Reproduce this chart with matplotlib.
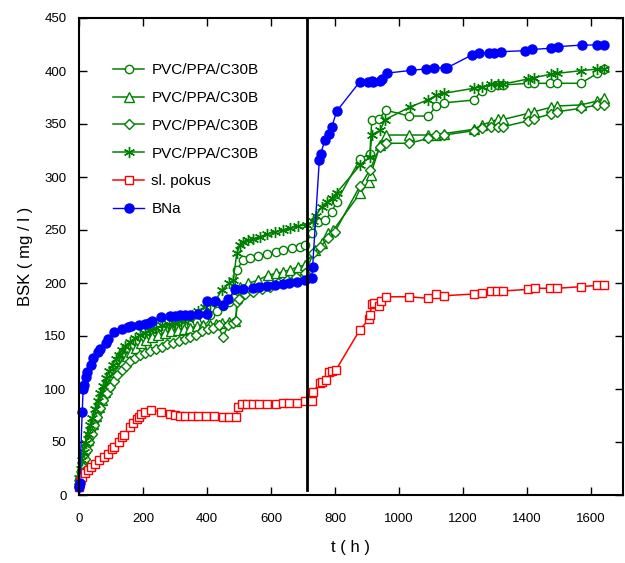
import matplotlib
matplotlib.use("Agg")
import matplotlib.pyplot as plt

plt.rcParams['font.family'] = ['Liberation Sans', 'DejaVu Sans']

# ---------------- data ----------------
labels = ["PVC/PPA/C30B", "PVC/PPA/C30B", "PVC/PPA/C30B", "PVC/PPA/C30B", "sl. pokus", "BNa"]

t_circ = [0, 5, 10, 16, 22, 30, 38, 46, 55, 64, 74, 84, 95, 106, 117, 128, 140, 152, 165, 180, 196, 212, 230, 250, 270, 290, 310, 330, 350, 370, 390, 410, 430, 450, 470, 483, 493, 513, 534, 560, 586, 616, 638, 665, 691, 706, 727, 748, 769, 790, 805, 878, 909, 915, 938, 959, 1032, 1092, 1116, 1141, 1234, 1258, 1287, 1308, 1326, 1404, 1422, 1472, 1495, 1568, 1620, 1640]
v_circ = [14, 22, 30, 38, 46, 55, 62, 70, 78, 86, 94, 101, 108, 115, 120, 126, 131, 136, 140, 144, 148, 151, 153, 155, 156, 157, 158, 159, 161, 163, 166, 170, 174, 178, 182, 186, 212, 222, 224, 225.4, 227, 229.5, 231, 232.7, 234, 235.8, 247, 258, 259.4, 267, 276.7, 316.7, 322, 354, 355, 363, 357.5, 357.5, 367, 370, 372.6, 381.4, 384.6, 386.8, 386.8, 388.4, 388.4, 388.4, 388.4, 388.4, 397.8, 402]

t_tri = [0, 4, 9, 14, 20, 27, 35, 43, 52, 61, 71, 81, 92, 103, 114, 125, 137, 150, 163, 178, 194, 210, 228, 248, 268, 288, 308, 328, 348, 368, 388, 408, 428, 448, 468, 488, 503, 529, 560, 592, 616, 638, 659, 685, 706, 737, 758, 779, 795, 878, 907, 911, 941, 959, 1032, 1092, 1116, 1141, 1234, 1258, 1287, 1308, 1326, 1404, 1422, 1474, 1495, 1568, 1620, 1640]
v_tri = [12, 20, 28, 36, 44, 52, 60, 67, 75, 83, 90, 97, 104, 110, 116, 121, 126, 131, 135, 139, 143, 146, 149, 151, 153, 155, 156, 157, 158, 159, 160, 160, 161, 162, 163, 164, 196.5, 199.7, 202.8, 207.5, 209, 210.7, 212.3, 215.4, 217, 231, 237.4, 247, 250, 284.6, 295.6, 302, 330, 339.6, 339.6, 339.6, 340, 341, 345, 349, 352, 354.4, 354.4, 360, 361.6, 365.7, 367, 368, 371.7, 375]

t_dia = [0, 6, 12, 18, 25, 32, 40, 48, 57, 66, 76, 86, 97, 108, 120, 133, 146, 160, 175, 190, 206, 222, 240, 258, 276, 294, 312, 330, 348, 366, 384, 402, 420, 436, 449, 467, 480, 490, 493, 501, 519, 545, 571, 597, 623, 649, 678, 706, 732, 753, 779, 800, 878, 909, 941, 959, 1032, 1092, 1116, 1141, 1234, 1258, 1287, 1308, 1326, 1404, 1422, 1474, 1495, 1568, 1620, 1640]
v_dia = [10, 18, 26, 34, 42, 50, 58, 66, 74, 82, 90, 96, 102, 108, 113, 118, 122, 126, 129, 132, 134, 136, 138, 140, 142, 143, 145, 147, 149, 151, 155, 157, 158, 160, 149, 160, 162, 164, 182, 184.6, 190, 191.8, 194, 196.5, 199.7, 202.8, 206, 209, 228, 234, 242, 248.4, 291.5, 306.6, 328.6, 331.8, 331.8, 336.5, 339.6, 339.6, 343.7, 346, 347.5, 347.5, 347.5, 353, 355, 359.4, 361.6, 364.8, 368, 368]

t_ast = [0, 5, 10, 15, 21, 28, 35, 42, 50, 58, 66, 75, 85, 95, 105, 115, 125, 135, 145, 158, 175, 190, 205, 222, 240, 260, 280, 300, 320, 340, 352, 373, 394, 410, 425, 446, 470, 482, 493, 503, 513, 529, 545, 565, 588, 612, 638, 659, 685, 711, 730, 740, 758, 775, 790, 805, 878, 909, 915, 941, 956, 1034, 1092, 1116, 1141, 1234, 1258, 1287, 1308, 1326, 1404, 1422, 1474, 1495, 1568, 1620, 1640]
v_ast = [16, 25, 33, 41, 49, 58, 66, 73, 81, 89, 96, 103, 110, 117, 123, 128, 132, 137, 141, 144, 148, 151, 153, 156, 158, 160, 161, 162, 164, 166, 170, 174, 177.6, 180, 182.4, 193.4, 199.7, 202.8, 228, 235.8, 239, 240.6, 241.5, 243.7, 246, 248.4, 250, 251.6, 253.8, 254.7, 258.5, 263, 272, 276, 280, 285, 311, 319, 340, 344, 354, 366, 373, 377, 379, 383.7, 385, 387.4, 387.7, 387.7, 392.5, 393.7, 397, 397.8, 400.3, 401.9, 402]

t_red = [0, 3, 10, 19, 28, 37, 50, 62, 78, 90, 103, 110, 125, 133, 142, 159, 170, 180, 187, 195, 206, 225, 255, 284, 300, 316, 331, 352, 373, 397, 422, 449, 470, 490, 498, 510, 524, 543, 562, 588, 616, 638, 657, 682, 706, 727, 732, 753, 760, 772, 782, 790, 803, 878, 906, 909, 915, 922, 938, 943, 958, 1032, 1092, 1116, 1141, 1234, 1259, 1287, 1307, 1326, 1404, 1424, 1472, 1493, 1568, 1620, 1640]
v_red = [8, 12, 17, 21, 24, 26.7, 29, 33, 36, 39, 43, 45.6, 50, 55, 56.6, 64, 68, 72, 74, 76, 78.6, 80, 78.6, 76.4, 75.5, 75, 75, 74.5, 74.5, 74.5, 74.5, 73.3, 73.3, 73.3, 82.7, 85.8, 85.8, 85.8, 85.8, 86, 86, 86.8, 86.8, 86.8, 88.4, 88.4, 97.5, 106, 107, 108.5, 115.7, 117, 118, 156, 165.7, 170, 180, 181, 178.6, 183, 187, 187, 185.5, 189.6, 188, 189.6, 191, 192.5, 192.5, 192.5, 194, 195, 195, 195, 196.5, 197.8, 197.8]

t_blue = [0, 2, 10, 13, 16, 21, 24, 37, 45, 58, 66, 83, 92, 110, 133, 154, 162, 187, 206, 219, 229, 255, 284, 300, 316, 331, 347, 373, 399, 401, 425, 449, 467, 487, 514, 543, 563, 586, 612, 637, 657, 680, 706, 727, 730, 751, 755, 769, 782, 790, 805, 878, 904, 915, 920, 941, 946, 962, 1039, 1084, 1109, 1144, 1150, 1227, 1250, 1282, 1298, 1319, 1394, 1417, 1475, 1498, 1572, 1620, 1640]
v_blue = [8, 11, 78, 100, 104, 111.6, 116, 122.6, 129, 135, 137.5, 143.7, 147, 153.8, 157, 158.8, 159.4, 160.4, 161.3, 162.5, 164, 167.6, 168.9, 169, 169.5, 169.5, 169.5, 170.7, 171, 183, 183, 179, 184.6, 194, 194, 195.6, 196.5, 197, 197.8, 198.8, 199.7, 200.6, 202.8, 204.4, 214.8, 316, 322, 335, 341, 347, 362, 390, 390, 390.6, 390, 391, 392, 398, 400.6, 402, 403, 403, 403, 415, 416.7, 416.7, 416.7, 418.2, 419.2, 420.4, 421.4, 423, 424.5, 424.5, 424.5]

# vertical marker line
vline_t = 712
vline_y = [5, 450]

x_ticks = [0, 200, 400, 600, 800, 1000, 1200, 1400, 1600]
y_ticks = [0, 50, 100, 150, 200, 250, 300, 350, 400, 450]

# ---------------- plot ----------------
fig = plt.figure(figsize=(6.25, 5.63), dpi=100)
ax = fig.add_axes([79/625, 68/563, 544/625, 477/563])

green = '#008000'
common = dict(lw=1.1, mew=1.0, clip_on=False)
ax.plot(t_circ, v_circ, color=green, marker='o', ms=6, mfc='white', label=labels[0], **common)
ax.plot(t_tri, v_tri, color=green, marker='^', ms=6.5, mfc='white', label=labels[1], **common)
ax.plot(t_dia, v_dia, color=green, marker='D', ms=5, mfc='white', label=labels[2], **common)
ax.plot(t_ast, v_ast, color=green, marker=(6, 2, 0), ms=8, label=labels[3], **common)
ax.plot(t_red, v_red, color='red', marker='s', ms=6, mfc='white', label=labels[4], **common)
ax.plot(t_blue, v_blue, color='blue', marker='o', ms=6.5, mfc='blue', mec='blue', label=labels[5], lw=1.0, clip_on=False)

ax.plot([vline_t, vline_t], vline_y, color='black', lw=2)

ax.set_xlim(0, 1700)
ax.set_ylim(0, 450)
ax.set_xticks(x_ticks)
ax.set_yticks(y_ticks)
ax.tick_params(direction='in', length=6, width=1, top=True, right=True, labelsize=9.5)
ax.tick_params(axis='x', pad=13)
ax.tick_params(axis='y', pad=9)
for s in ax.spines.values():
    s.set_linewidth(1.5)

ax.set_xlabel('t ( h )', fontsize=12, labelpad=11)
ax.set_ylabel('BSK ( mg / l )', fontsize=12, labelpad=8)

ax.legend(loc='upper left', bbox_to_anchor=(0.063, 0.905), frameon=False, fontsize=11,
          handlelength=2.0, labelspacing=0.9, handletextpad=0.5, borderpad=0, borderaxespad=0)

fig.savefig('out.png', dpi=100)
